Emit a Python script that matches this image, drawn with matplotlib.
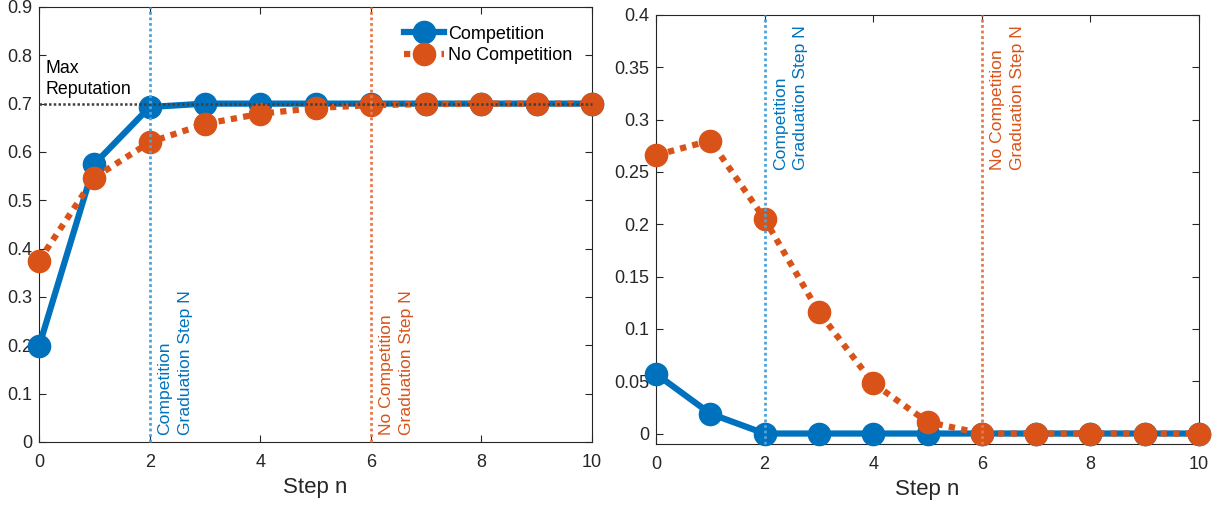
import matplotlib.pyplot as plt
import numpy as np

plt.rcParams['font.family'] = ['Liberation Sans', 'DejaVu Sans']

steps = np.arange(0, 11)
rep_comp = [0.198, 0.575, 0.693, 0.700, 0.700, 0.700, 0.700, 0.700, 0.700, 0.700, 0.700]
rep_nocomp = [0.375, 0.547, 0.620, 0.658, 0.679, 0.691, 0.697, 0.699, 0.700, 0.700, 0.700]
var_comp = [0.057, 0.019, 0.0, 0.0, 0.0, 0.0, 0.0, 0.0, 0.0, 0.0, 0.0]
var_nocomp = [0.266, 0.280, 0.205, 0.116, 0.048, 0.011, 0.0, 0.0, 0.0, 0.0, 0.0]
max_rep = 0.7
grad_comp = 2
grad_nocomp = 6

blue = '#0072BD'
orange = '#D95319'
blue_l = '#4DA3DC'
orange_l = '#E67A4E'
dark = '#262626'
dots = (0, (1, 1))

fig = plt.figure(figsize=(12.13, 5.08), dpi=100)
ax1 = fig.add_axes([0.0322, 0.130, 0.4559, 0.8563])
ax2 = fig.add_axes([0.5408, 0.126, 0.4477, 0.8445])

for ax in (ax1, ax2):
    ax.tick_params(direction='in', top=True, right=True, labelsize=13,
                   colors=dark, length=5, width=0.8)
    ax.tick_params(axis='y', pad=5)
    ax.tick_params(axis='x', pad=9)
    for s in ax.spines.values():
        s.set_color(dark)
        s.set_linewidth(0.8)
    ax.set_xlim(0, 10)
    ax.set_xticks([0, 2, 4, 6, 8, 10])
    ax.set_xlabel('Step n', fontsize=16, color=dark, labelpad=4)

# left: reputation
ax1.plot(steps, rep_comp, '-o', color=blue, lw=4.5, ms=16, label='Competition', zorder=3)
ax1.plot(steps, rep_nocomp, marker='o', ls=dots, dash_capstyle='butt', color=orange,
         lw=4.5, ms=16, label='No Competition', zorder=4)
ax1.axhline(max_rep, color='#404040', ls=(0, (1, 0.9)), lw=1.8, zorder=5)
ax1.text(0.12, 0.711, 'Max\nReputation', fontsize=12.8, color='black',
         va='bottom', ha='left', linespacing=1.35)
ax1.axvline(grad_comp, color=blue_l, ls=dots, lw=2, zorder=6)
ax1.axvline(grad_nocomp, color=orange_l, ls=dots, lw=2, zorder=6)
ax1.text(grad_comp + 0.14, 0.015, 'Competition\nGraduation Step N', rotation=90,
         color=blue, fontsize=12.6, ha='left', va='bottom', linespacing=1.45)
ax1.text(grad_nocomp + 0.14, 0.015, 'No Competition\nGraduation Step N', rotation=90,
         color=orange, fontsize=12.6, ha='left', va='bottom', linespacing=1.45)
ax1.set_ylim(0, 0.9)
ax1.set_yticks(np.arange(0, 0.91, 0.1))
ax1.set_yticklabels(['0', '0.1', '0.2', '0.3', '0.4', '0.5', '0.6', '0.7', '0.8', '0.9'])
ax1.legend(loc='upper right', bbox_to_anchor=(0.981, 0.978), frameon=False,
           fontsize=13, handlelength=2.2, handletextpad=0.25,
           labelspacing=0.25, borderpad=0)

# right: variance
ax2.plot(steps, var_comp, '-o', color=blue, lw=4.5, ms=16, zorder=3)
ax2.plot(steps, var_nocomp, marker='o', ls=dots, dash_capstyle='butt', color=orange,
         lw=4.5, ms=16, zorder=4)
ax2.axvline(grad_comp, color=blue_l, ls=dots, lw=2, zorder=6)
ax2.axvline(grad_nocomp, color=orange_l, ls=dots, lw=2, zorder=6)
ax2.text(grad_comp + 0.15, 0.39, 'Competition\nGraduation Step N', rotation=90,
         color=blue, fontsize=12.6, ha='left', va='top', linespacing=1.45)
ax2.text(grad_nocomp + 0.15, 0.39, 'No Competition\nGraduation Step N', rotation=90,
         color=orange, fontsize=12.6, ha='left', va='top', linespacing=1.45)
ax2.set_ylim(-0.01, 0.4)
ax2.set_yticks(np.arange(0, 0.41, 0.05))
ax2.set_yticklabels(['0', '0.05', '0.1', '0.15', '0.2', '0.25', '0.3', '0.35', '0.4'])

for ax in (ax1, ax2):
    for line in ax.lines:
        line.set_clip_on(False)

fig.savefig('out.png', dpi=100)
